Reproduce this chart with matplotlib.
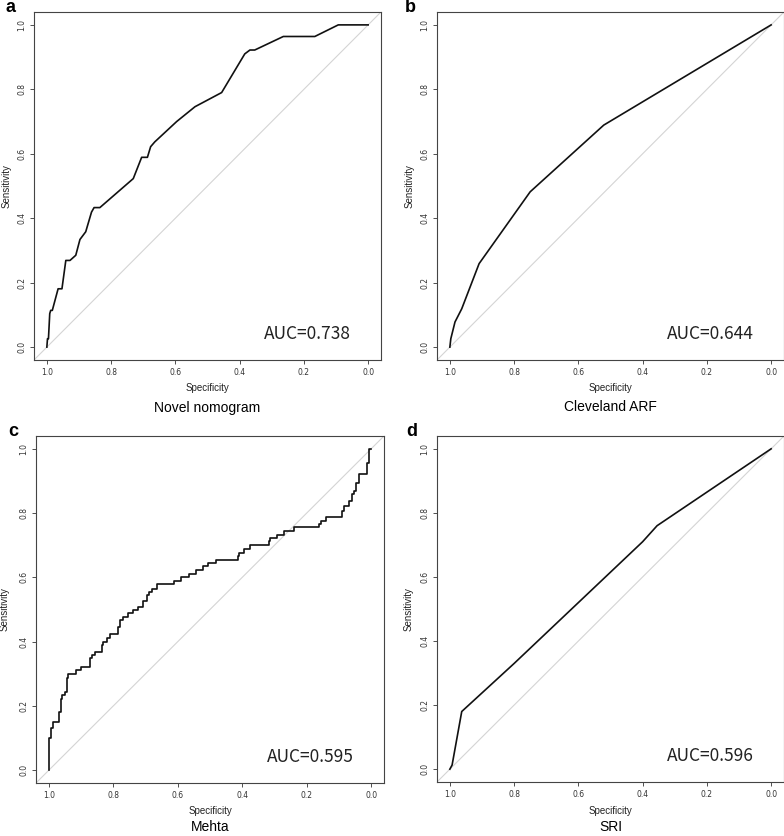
import numpy as np
import matplotlib
matplotlib.use("Agg")
import matplotlib.pyplot as plt

# ROC curves (specificity, sensitivity)
spec_a = [1.0, 0.998, 0.995, 0.991, 0.988, 0.983, 0.965, 0.953, 0.941, 0.928, 0.910,
          0.897, 0.879, 0.861, 0.853, 0.835, 0.731, 0.705, 0.687, 0.677, 0.664, 0.596,
          0.539, 0.456, 0.384, 0.368, 0.353, 0.264, 0.166, 0.093, 0.0]
sens_a = [0.0, 0.026, 0.026, 0.104, 0.114, 0.114, 0.181, 0.181, 0.269, 0.269, 0.285,
          0.334, 0.358, 0.419, 0.433, 0.433, 0.523, 0.589, 0.589, 0.622, 0.637, 0.700,
          0.746, 0.790, 0.910, 0.922, 0.922, 0.964, 0.964, 1.0, 1.0]

spec_b = [1.0, 0.997, 0.984, 0.963, 0.909, 0.750, 0.521, 0.0]
sens_b = [0.0, 0.026, 0.078, 0.119, 0.259, 0.482, 0.689, 1.0]

spec_c = [1.0, 0.999, 0.995, 0.988, 0.983, 0.970, 0.962, 0.958, 0.950, 0.945, 0.940,
          0.934, 0.915, 0.911, 0.901, 0.899, 0.872, 0.866, 0.856, 0.846, 0.836, 0.833,
          0.819, 0.809, 0.804, 0.786, 0.778, 0.769, 0.754, 0.738, 0.722, 0.707, 0.696,
          0.689, 0.679, 0.663, 0.649, 0.611, 0.605, 0.590, 0.585, 0.564, 0.558, 0.543,
          0.538, 0.522, 0.517, 0.506, 0.501, 0.480, 0.475, 0.412, 0.409, 0.394, 0.376,
          0.355, 0.318, 0.313, 0.292, 0.271, 0.240, 0.200, 0.162, 0.157, 0.141, 0.120,
          0.089, 0.084, 0.068, 0.060, 0.052, 0.047, 0.039, 0.037, 0.028, 0.013, 0.008,
          0.005, 0.0]
sens_c = [0.0, 0.047, 0.099, 0.132, 0.149, 0.149, 0.182, 0.220, 0.234, 0.244, 0.288,
          0.298, 0.298, 0.312, 0.312, 0.322, 0.322, 0.348, 0.359, 0.369, 0.369, 0.390,
          0.400, 0.411, 0.423, 0.423, 0.447, 0.468, 0.478, 0.489, 0.499, 0.509, 0.525,
          0.544, 0.554, 0.564, 0.580, 0.580, 0.590, 0.590, 0.600, 0.600, 0.611, 0.611,
          0.624, 0.624, 0.634, 0.634, 0.645, 0.645, 0.655, 0.655, 0.665, 0.676, 0.689,
          0.700, 0.700, 0.712, 0.722, 0.733, 0.743, 0.756, 0.756, 0.766, 0.774, 0.787,
          0.787, 0.808, 0.821, 0.837, 0.858, 0.870, 0.894, 0.910, 0.922, 0.922, 0.956,
          0.998, 1.0]

spec_d = [1.0, 0.993, 0.963, 0.80, 0.60, 0.40, 0.355, 0.0]
sens_d = [0.0, 0.013, 0.180, 0.330, 0.520, 0.710, 0.760, 1.0]

panels = [
    ("a", "Novel nomogram", "AUC=0.738", spec_a, sens_a, "default"),
    ("b", "Cleveland ARF", "AUC=0.644", spec_b, sens_b, "default"),
    ("c", "Mehta", "AUC=0.595", spec_c, sens_c, "steps-pre"),
    ("d", "SRI", "AUC=0.596", spec_d, sens_d, "default"),
]

W, H = 784, 836
# axes boxes in pixels: left, top, right, bottom
boxes = [(34, 12, 381, 360), (437, 12, 784, 360),
         (36, 436, 384, 783), (437, 436, 784, 782)]
letter_pos = [(10, 7), (410, 7), (13, 431), (412, 431)]
ylab_x = [7, 410, 5, 409]
spec_y = [388, 388, 811, 811]
name_y = [408, 407, 827, 827]

fig = plt.figure(figsize=(W / 100, H / 100), dpi=100)
fig.patch.set_facecolor("white")

def px(x, y):
    return x / W, 1 - y / H

for i, (letter, name, auc, sx, sy, ds) in enumerate(panels):
    l, t, r, b = boxes[i]
    ax = fig.add_axes([l / W, 1 - b / H, (r - l) / W, (b - t) / H])
    ax.plot([1.04, -0.04], [-0.04, 1.04], color="#d4d4d4", lw=0.8)
    ax.plot(sx, sy, color="#111111", lw=1.2, drawstyle=ds)
    ax.set_xlim(1.04, -0.04)
    ax.set_ylim(-0.04, 1.04)
    ticks = [0.0, 0.2, 0.4, 0.6, 0.8, 1.0]
    ax.set_xticks(ticks)
    ax.set_yticks(ticks)
    ax.set_xticklabels(["%.1f" % v for v in ticks])
    ax.set_yticklabels(["%.1f" % v for v in ticks], rotation=90, va="center")
    ax.tick_params(labelsize=5.5, length=3, width=0.6, pad=2.5,
                   colors="#333333")
    for sp in ax.spines.values():
        sp.set_linewidth(0.8)
        sp.set_color("#444444")
    ax.text(0.19, 0.04, auc, ha="center", va="center", fontsize=12.5,
            family=["Noto Sans CJK SC", "DejaVu Sans"], color="#222222")

    cx = (l + r) / 2
    fig.text(*px(letter_pos[i][0], letter_pos[i][1]), letter, fontsize=13,
             fontweight="bold", family="Liberation Sans", ha="center", va="center")
    fig.text(*px(ylab_x[i], (t + b) / 2), "Sensitivity", rotation=90, fontsize=7,
             family="Liberation Sans", ha="center", va="center", color="#222222")
    fig.text(*px(cx, spec_y[i]), "Specificity", fontsize=7,
             family="Liberation Sans", ha="center", va="center", color="#222222")
    fig.text(*px(cx, name_y[i]), name, fontsize=10,
             family="Liberation Sans", ha="center", va="center")

fig.savefig("out.png", dpi=100, facecolor="white")
